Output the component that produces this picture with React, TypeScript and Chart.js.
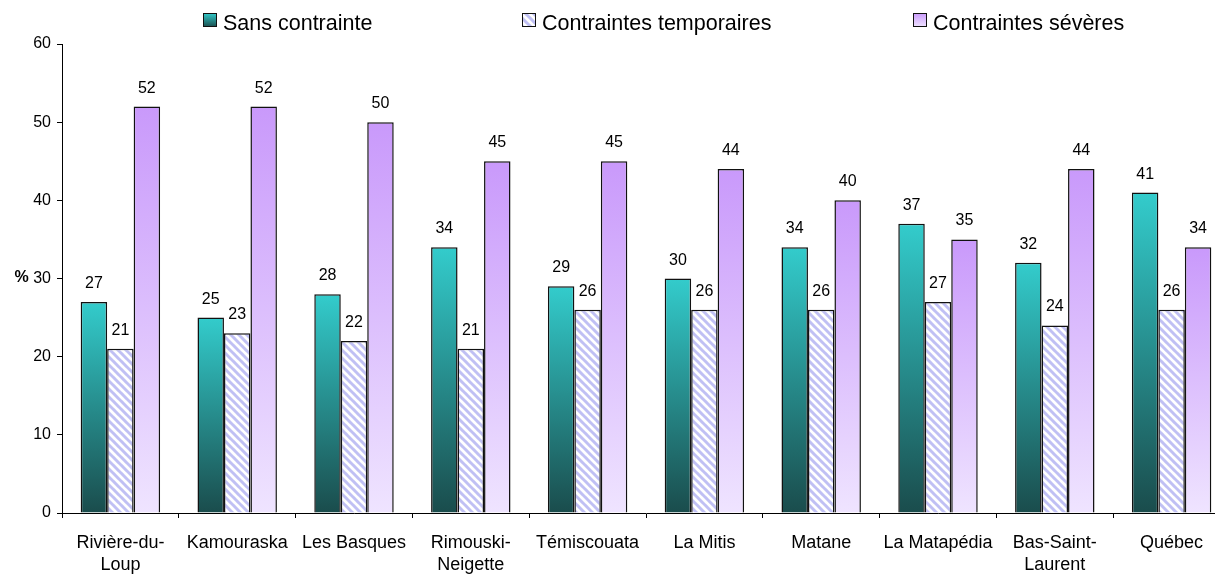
import React, { useEffect, useRef } from "react";
import { Chart, registerables } from "chart.js";

Chart.register(...registerables);

const categories: (string | string[])[] = [
  ["Rivière-du-", "Loup"],
  "Kamouraska",
  "Les Basques",
  ["Rimouski-", "Neigette"],
  "Témiscouata",
  "La Mitis",
  "Matane",
  "La Matapédia",
  ["Bas-Saint-", "Laurent"],
  "Québec",
];
const sansContrainte = [27, 25, 28, 34, 29, 30, 34, 37, 32, 41];
const contraintesTemporaires = [21, 23, 22, 21, 26, 26, 26, 27, 24, 26];
const contraintesSeveres = [52, 52, 50, 45, 45, 44, 40, 35, 44, 34];
const seriesNames = ["Sans contrainte", "Contraintes temporaires", "Contraintes sévères"];
const yTicks = [0, 10, 20, 30, 40, 50, 60];

const FONT = "'Liberation Sans', Arial, sans-serif";
const TEAL_TOP = "#33cccc";
const TEAL_BOTTOM = "#1a4c4c";
const PURPLE_TOP = "#c999fb";
const PURPLE_BOTTOM = "#efe4ff";
const HATCH = "#c0c0f4";

function makeHatch(ctx: CanvasRenderingContext2D): CanvasPattern | string {
  const s = 8;
  const c = document.createElement("canvas");
  c.width = s;
  c.height = s;
  const g = c.getContext("2d");
  if (!g) return HATCH;
  g.fillStyle = "#ffffff";
  g.fillRect(0, 0, s, s);
  g.strokeStyle = HATCH;
  g.lineWidth = 3;
  for (const k of [-s, 0, s]) {
    g.beginPath();
    g.moveTo(k - 1, -1);
    g.lineTo(k + s + 1, s + 1);
    g.stroke();
  }
  return ctx.createPattern(c, "repeat") || HATCH;
}

export default function App() {
  const ref = useRef<HTMLCanvasElement | null>(null);

  useEffect(() => {
    const canvas = ref.current;
    if (!canvas) return;
    const c2d = canvas.getContext("2d")!;
    const hatch = makeHatch(c2d);

    const gradFill = (top: string, bottom: string, fallback: string) => (ctx: any) => {
      const chart = ctx.chart;
      const { chartArea, scales } = chart;
      if (!chartArea || !scales || !scales.y || ctx.type !== "data") return fallback;
      const yTop = scales.y.getPixelForValue(ctx.raw);
      const yBase = scales.y.getPixelForValue(0);
      if (!isFinite(yTop) || !isFinite(yBase) || yTop === yBase) return fallback;
      const g = chart.ctx.createLinearGradient(0, yTop, 0, yBase);
      g.addColorStop(0, top);
      g.addColorStop(1, bottom);
      return g;
    };

    const labelsPlugin = {
      id: "valueLabels",
      afterDatasetsDraw(chart: any) {
        const ctx = chart.ctx;
        ctx.save();
        ctx.font = `16px ${FONT}`;
        ctx.fillStyle = "#000";
        ctx.textAlign = "center";
        ctx.textBaseline = "alphabetic";
        chart.data.datasets.forEach((ds: any, i: number) => {
          const meta = chart.getDatasetMeta(i);
          meta.data.forEach((el: any, j: number) => {
            ctx.fillText(String(ds.data[j]), el.x, el.y - 14);
          });
        });
        ctx.font = `bold 16px ${FONT}`;
        ctx.textBaseline = "middle";
        ctx.fillText("%", 21.5, chart.scales.y.getPixelForValue(30) - 1);
        ctx.restore();
      },
    };

    const legendPlugin = {
      id: "customLegend",
      afterDraw(chart: any) {
        const ctx = chart.ctx;
        const items = [203, 522, 913];
        ctx.save();
        items.forEach((bx, i) => {
          const by = 13, bs = 14;
          if (i === 0) {
            const g = ctx.createLinearGradient(0, by, 0, by + bs);
            g.addColorStop(0, TEAL_TOP);
            g.addColorStop(1, TEAL_BOTTOM);
            ctx.fillStyle = g;
          } else if (i === 1) {
            ctx.fillStyle = hatch;
          } else {
            const g = ctx.createLinearGradient(0, by, 0, by + bs);
            g.addColorStop(0, PURPLE_TOP);
            g.addColorStop(1, PURPLE_BOTTOM);
            ctx.fillStyle = g;
          }
          ctx.fillRect(bx, by, bs, bs);
          ctx.strokeStyle = "#111";
          ctx.lineWidth = 1;
          ctx.strokeRect(bx + 0.5, by + 0.5, bs - 1, bs - 1);
          ctx.fillStyle = "#000";
          ctx.font = `21.5px ${FONT}`;
          ctx.textAlign = "left";
          ctx.textBaseline = "alphabetic";
          ctx.fillText(seriesNames[i], bx + 20, 30);
        });
        ctx.restore();
      },
    };

    const common = {
      borderColor: "#111",
      borderWidth: 1.5,
      categoryPercentage: 0.68,
      barPercentage: 1,
    };

    const chart = new Chart(canvas, {
      type: "bar",
      data: {
        labels: categories,
        datasets: [
          {
            label: seriesNames[0],
            data: sansContrainte,
            backgroundColor: gradFill(TEAL_TOP, TEAL_BOTTOM, TEAL_TOP),
            ...common,
          },
          {
            label: seriesNames[1],
            data: contraintesTemporaires,
            backgroundColor: hatch as any,
            ...common,
          },
          {
            label: seriesNames[2],
            data: contraintesSeveres,
            backgroundColor: gradFill(PURPLE_TOP, PURPLE_BOTTOM, PURPLE_TOP),
            ...common,
          },
        ],
      },
      options: {
        responsive: false,
        animation: false,
        devicePixelRatio: 1,
        layout: { padding: { top: 44, right: 10, left: 0, bottom: 0 } },
        plugins: {
          legend: { display: false },
          tooltip: { enabled: false },
        },
        scales: {
          x: {
            afterFit: (s: any) => {
              s.height = 62;
            },
            grid: {
              offset: true,
              drawOnChartArea: false,
              drawTicks: true,
              tickLength: 5,
              color: "#000",
            },
            border: { color: "#000", width: 1 },
            ticks: {
              color: "#000",
              font: { family: FONT, size: 18, lineHeight: 1.22 },
              padding: 14,
              maxRotation: 0,
              autoSkip: false,
            },
          },
          y: {
            min: 0,
            max: 60,
            afterFit: (s: any) => {
              s.width = 62;
            },
            afterBuildTicks: (s: any) => {
              s.ticks = yTicks.map((v) => ({ value: v }));
            },
            grid: {
              drawOnChartArea: false,
              drawTicks: true,
              tickLength: 5,
              color: "#000",
            },
            border: { color: "#000", width: 1 },
            ticks: {
              color: "#000",
              font: { family: FONT, size: 16 },
              padding: 6,
            },
          },
        },
      },
      plugins: [labelsPlugin, legendPlugin],
    });
    return () => chart.destroy();
  }, []);

  return (
    <div
      style={{
        position: "fixed",
        left: 0,
        top: 0,
        width: 1215,
        height: 575,
        overflow: "hidden",
        background: "#fff",
      }}
    >
      <canvas ref={ref} width={1240} height={575} style={{ width: 1240, height: 575, display: "block" }} />
    </div>
  );
}
